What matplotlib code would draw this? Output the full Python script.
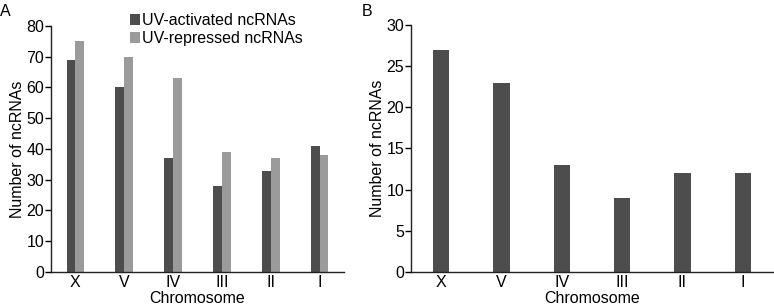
import matplotlib.pyplot as plt
import numpy as np

chromosomes = ["X", "V", "IV", "III", "II", "I"]
activated = [69, 60, 37, 28, 33, 41]
repressed = [75, 70, 63, 39, 37, 38]
panel_b = [27, 23, 13, 9, 12, 12]

dark = "#4d4d4d"
light = "#9b9b9b"
fs = 11.5


def style(ax):
    ax.spines["top"].set_visible(False)
    ax.spines["right"].set_visible(False)
    for s in ["left", "bottom"]:
        ax.spines[s].set_linewidth(1.0)
        ax.spines[s].set_color("#222222")
    ax.tick_params(axis="y", length=4, width=1.0, pad=1, labelsize=fs)
    ax.tick_params(axis="x", length=0, pad=2, labelsize=fs)
    ax.set_xlim(-0.5, 5.5)
    ax.set_xlabel("Chromosome", fontsize=fs, labelpad=1)
    ax.set_ylabel("Number of ncRNAs", fontsize=fs, labelpad=1)


def main():
    plt.rcParams["font.family"] = ["Liberation Sans", "DejaVu Sans"]
    fig = plt.figure(figsize=(7.74, 3.08), dpi=100)

    ax1 = fig.add_axes([0.0659, 0.1169, 0.3786, 0.7987])
    x = np.arange(len(chromosomes))
    w = 0.18
    ax1.bar(x - w / 2, activated, w, color=dark, label="UV-activated ncRNAs")
    ax1.bar(x + w / 2, repressed, w, color=light, label="UV-repressed ncRNAs")
    ax1.set_ylim(0, 80)
    ax1.set_yticks(range(0, 81, 10))
    ax1.set_xticks(x)
    ax1.set_xticklabels(chromosomes)
    style(ax1)
    ax1.legend(loc="upper left", bbox_to_anchor=(0.27, 1.052), frameon=False,
               fontsize=fs, handlelength=0.63, handleheight=0.7,
               handletextpad=0.12, labelspacing=0.2, borderpad=0,
               borderaxespad=0)

    ax2 = fig.add_axes([0.531, 0.1169, 0.4677, 0.802])
    ax2.bar(x, panel_b, 0.27, color=dark)
    ax2.set_ylim(0, 30)
    ax2.set_yticks(range(0, 31, 5))
    ax2.set_xticks(x)
    ax2.set_xticklabels(chromosomes)
    style(ax2)

    fig.text(0 / 774, 1 - 11 / 308, "A", fontsize=fs, va="center")
    fig.text(362 / 774, 1 - 11 / 308, "B", fontsize=fs, va="center")

    fig.savefig("out.png", dpi=100)


if __name__ == "__main__":
    main()
